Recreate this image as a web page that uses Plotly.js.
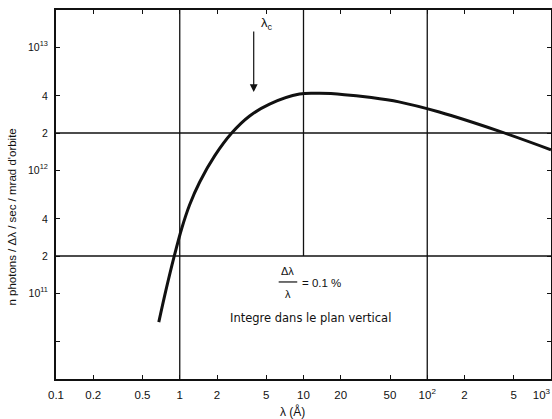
<!DOCTYPE html>
<html>
<head>
<meta charset="utf-8">
<script src="https://cdn.plot.ly/plotly-3.0.1.min.js"></script>
<style>html,body{margin:0;padding:0;background:#fff;}#chart{width:552px;height:419px;}</style>
</head>
<body>
<div id="chart"></div>
<script>
// Data (wavelength in Å, photon flux)
const wavelength = [0.677, 0.771, 0.895, 1.04, 1.2, 1.45, 1.92, 2.63, 3.67, 5.32, 9.3, 13.5, 21.4, 34, 59, 125, 380, 1000];
const photons = [5.8e10, 1.04e11, 1.93e11, 3.38e11, 5.2e11, 8.0e11, 1.31e12, 2.0e12, 2.75e12, 3.44e12, 4.15e12, 4.2e12, 4.1e12, 3.9e12, 3.58e12, 2.96e12, 2.07e12, 1.46e12];

const xTickVals = [0.1, 0.2, 0.5, 1, 2, 5, 10, 20, 50, 100, 200, 500, 1000];
const xTickText = ['0.1', '0.2', '0.5', '1', '2', '5', '10', '20', '50', '10<sup>2</sup>', '2', '5', '10<sup>3</sup>&nbsp;&nbsp;&nbsp;&nbsp;&nbsp;&nbsp;'];
const yTickVals = [4e10, 1e11, 2e11, 4e11, 1e12, 2e12, 4e12, 1e13];
const yTickText = ['', '10<sup>11</sup>', '2', '4', '10<sup>12</sup>', '2', '4', '10<sup>13</sup>'];

const gridX = [1, 100];
const gridY = [2e11, 2e12];
const partialGridX = 10; // from the 2e11 line up to the top
const lambdaC = 3.96;

const ink = '#111';
const font = {family: 'Liberation Sans, Arial, sans-serif', color: ink};
const wide = {family: 'DejaVu Sans, sans-serif', color: ink};
const L = Math.log10;

const shapes = [];
gridX.forEach(v => shapes.push({type: 'line', xref: 'x', yref: 'paper', x0: v, x1: v, y0: 0, y1: 1, line: {color: ink, width: 1.3}}));
gridY.forEach(v => shapes.push({type: 'line', xref: 'paper', yref: 'y', x0: 0, x1: 1, y0: v, y1: v, line: {color: ink, width: 1.3}}));
shapes.push({type: 'line', xref: 'x', yref: 'y', x0: partialGridX, x1: partialGridX, y0: 2e11, y1: 2e13, line: {color: ink, width: 1.3}});
// fraction bar for Δλ/λ
shapes.push({type: 'line', xref: 'x', yref: 'y', x0: 6.3, x1: 8.9, y0: 1.23e11, y1: 1.23e11, line: {color: ink, width: 1.2}});

const trace = {
  x: wavelength, y: photons, type: 'scatter', mode: 'lines',
  line: {color: ink, width: 3, shape: 'spline', smoothing: 1},
  hoverinfo: 'skip'
};

const annotations = [
  {x: L(lambdaC), y: L(4.3e12), xref: 'x', yref: 'y', text: '', showarrow: true, ax: 0, ay: -62,
   arrowhead: 2, arrowsize: 1.3, arrowwidth: 1.2, arrowcolor: ink},
  {x: 0.637, y: 13.19, xref: 'x', yref: 'y', text: 'λ<sub>c</sub>', showarrow: false, xanchor: 'left', yanchor: 'middle',
   font: Object.assign({size: 13}, font)},
  {x: 0.871, y: 11.179, xref: 'x', yref: 'y', text: 'Δλ', showarrow: false, xanchor: 'center', yanchor: 'middle',
   font: Object.assign({size: 11}, font)},
  {x: 0.871, y: 10.992, xref: 'x', yref: 'y', text: 'λ', showarrow: false, xanchor: 'center', yanchor: 'middle',
   font: Object.assign({size: 11}, font)},
  {x: 0.968, y: 11.082, xref: 'x', yref: 'y', text: '= 0.1 %', showarrow: false, xanchor: 'left', yanchor: 'middle',
   font: Object.assign({size: 11.5}, font)},
  {x: 1.056, y: 10.797, xref: 'x', yref: 'y', text: 'Integre dans le plan vertical', showarrow: false, xanchor: 'center', yanchor: 'middle',
   font: Object.assign({size: 11.5}, wide)},
  {x: -0.089, y: 0.44, xref: 'paper', yref: 'paper', text: 'n photons / Δλ / sec / mrad d\'orbite', showarrow: false,
   textangle: -90, xanchor: 'center', yanchor: 'middle', font: Object.assign({size: 11.5}, font)},
  {x: 0.477, y: -0.087, xref: 'paper', yref: 'paper', text: 'λ (Å)', showarrow: false,
   xanchor: 'center', yanchor: 'middle', font: Object.assign({size: 12}, font)}
];

const layout = {
  width: 552, height: 419,
  margin: {l: 56, r: 1, t: 10, b: 40},
  paper_bgcolor: '#fff', plot_bgcolor: '#fff',
  showlegend: false,
  xaxis: {
    type: 'log', range: [-1, 3], showgrid: false, zeroline: false,
    showline: true, linecolor: ink, linewidth: 2, mirror: 'ticks',
    ticks: 'inside', ticklen: 4, tickcolor: ink, tickwidth: 1,
    tickmode: 'array', tickvals: xTickVals, ticktext: xTickText,
    tickfont: Object.assign({size: 11.5}, font), ticklabelstandoff: 4,
    ticklabeloverflow: 'allow'
  },
  yaxis: {
    type: 'log', range: [L(2e10), L(2e13)], showgrid: false, zeroline: false,
    showline: true, linecolor: ink, linewidth: 2, mirror: 'ticks',
    ticks: 'inside', ticklen: 4, tickcolor: ink, tickwidth: 1,
    tickmode: 'array', tickvals: yTickVals, ticktext: yTickText,
    tickfont: Object.assign({size: 10.5}, font), ticklabelstandoff: 4
  },
  shapes: shapes,
  annotations: annotations
};

Plotly.newPlot('chart', [trace], layout, {staticPlot: true, displayModeBar: false});
</script>
</body>
</html>
